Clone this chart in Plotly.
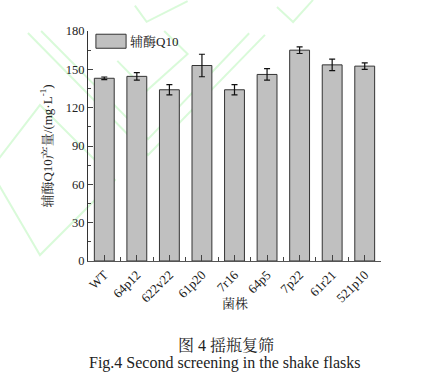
import plotly.graph_objects as go

strains = ["WT", "64p12", "622v22", "61p20", "7r16", "64p5", "7p22", "61r21", "521p10"]
coq10 = [143, 144.5, 134, 153, 134, 146, 165, 153.5, 152.5]
coq10_err = [1, 2.9, 4, 8.8, 4, 4.5, 2.6, 4.5, 2.6]
y_ticks = [0, 30, 60, 90, 120, 150, 180]

FONT = "Liberation Serif, Times New Roman, Noto Serif CJK SC, Noto Sans CJK SC, serif"
x_pos = list(range(len(strains)))

fig = go.Figure()

# faint green watermark outlines (decorative background)
wm = dict(type="path", xref="paper", yref="paper",
          line=dict(color="rgba(170,245,170,0.45)", width=2), layer="below")
fig.add_shape(**wm, path="M -0.205,0.991 L 0.205,0.461 L 0.604,0.983")
fig.add_shape(**wm, path="M -0.16,1.0 L 0.205,0.53 L 0.55,0.99")
fig.add_shape(**wm, path="M -0.334,0.396 L -0.164,0.678 L 0.092,0.352 L -0.164,0.026 Z")
fig.add_shape(**wm, path="M 0.645,1.104 L 0.70,1.039 L 0.768,1.135")
fig.add_shape(**wm, path="M 0.16,1.11 L 0.2,1.04 L 0.34,1.13")
fig.add_shape(**wm, path="M 0.1,0.87 L 0.2,0.74 L 0.34,0.9 L 0.26,1.0")

fig.add_trace(go.Bar(
    x=x_pos, y=coq10, name="辅酶Q10",
    width=0.61,
    marker=dict(color="#c0c0c0", line=dict(color="#333333", width=1)),
    error_y=dict(type="data", array=coq10_err, color="#111111", thickness=1.2, width=3),
    showlegend=False,
))

# legend drawn manually (large swatch as in reference)
fig.add_shape(type="rect", xref="paper", yref="paper", x0=0.027, x1=0.13, y0=0.925, y1=0.986,
              fillcolor="#c0c0c0", line=dict(color="#333333", width=1))
fig.add_annotation(x=0.138, y=0.956, xref="paper", yref="paper", text="辅酶Q10", showarrow=False,
                   xanchor="left", yanchor="middle", font=dict(family=FONT, size=13, color="#222"))

fig.update_layout(
    width=438, height=379,
    margin=dict(l=88, r=57, t=31, b=118),
    paper_bgcolor="white", plot_bgcolor="rgba(0,0,0,0)",
    font=dict(family=FONT, size=12, color="#222"),
)
fig.update_xaxes(
    range=[-0.5, 8.5], tickmode="array", tickvals=x_pos, ticktext=strains, tickangle=-45,
    ticks="inside", ticklen=6, tickcolor="#444", showline=True, linecolor="#555", linewidth=1.2,
    showgrid=False, zeroline=False, automargin=False,
    tickfont=dict(family=FONT, size=13, color="#222"),
    minor=dict(tickmode="linear", tick0=-0.5, dtick=1, ticks="inside", ticklen=4, tickcolor="#444"),
)
fig.update_yaxes(
    range=[0, 180], tickmode="array", tickvals=y_ticks,
    ticks="inside", ticklen=5, tickcolor="#444", showline=True, linecolor="#333", linewidth=1.2,
    showgrid=False, zeroline=False, automargin=False,
    tickfont=dict(family=FONT, size=12.5, color="#222"),
    minor=dict(tickmode="linear", tick0=15, dtick=30, ticks="inside", ticklen=3, tickcolor="#444"),
    title=dict(text="辅酶Q10产量/(mg·L<sup>-1</sup>)", font=dict(family=FONT, size=13), standoff=10),
)

# x-axis title and figure caption
fig.add_annotation(x=(235 - 88) / 293, y=(261 - 303) / 230, xref="paper", yref="paper",
                   text="菌株", showarrow=False, yanchor="middle",
                   font=dict(family=FONT, size=13, color="#222"))
fig.add_annotation(x=(226 - 88) / 293, y=(261 - 345) / 230, xref="paper", yref="paper",
                   text="图 4 摇瓶复筛", showarrow=False, yanchor="middle",
                   font=dict(family=FONT, size=16, color="#222"))
fig.add_annotation(x=(225 - 88) / 293, y=(261 - 363) / 230, xref="paper", yref="paper",
                   text="Fig.4 Second screening in the shake flasks", showarrow=False, yanchor="middle",
                   font=dict(family=FONT, size=16, color="#222"))

fig.write_html("out.html", config={"displayModeBar": False},
               post_script="document.body.style.margin='0';document.body.style.overflow='hidden';")
